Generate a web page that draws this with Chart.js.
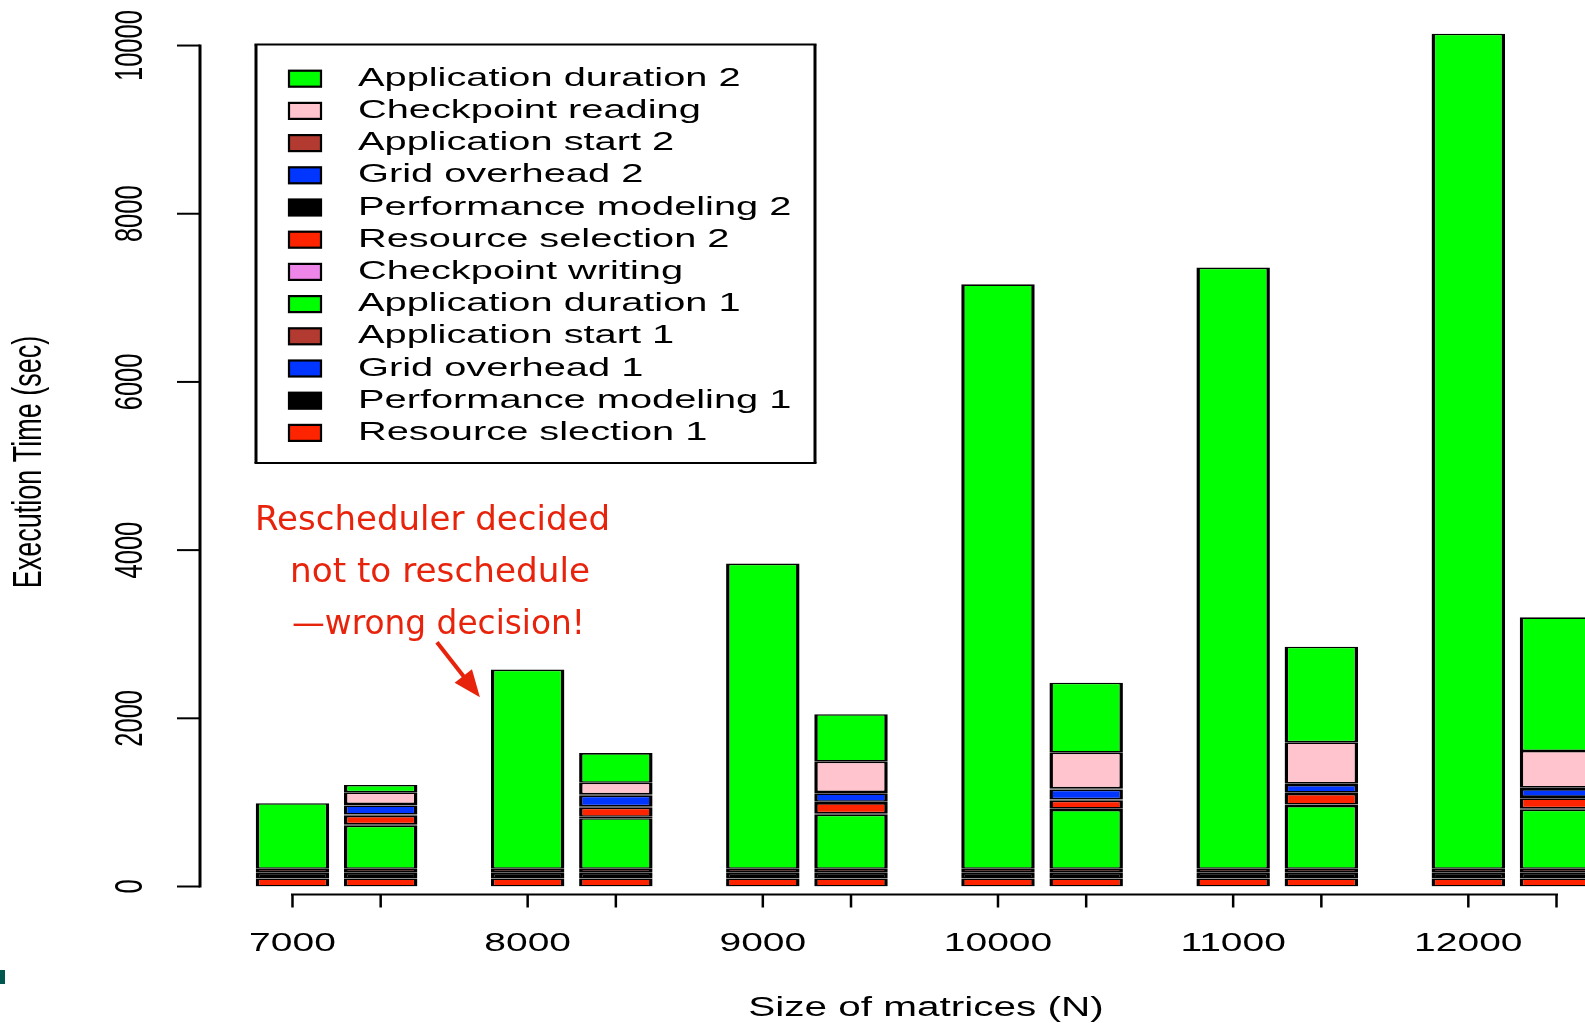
<!DOCTYPE html>
<html>
<head>
<meta charset="utf-8">
<title>Execution time with and without rescheduling</title>
<style>
  html, body { margin: 0; padding: 0; overflow: hidden; background: #ffffff; }
  canvas { display: block; }
</style>
<script src="https://cdn.jsdelivr.net/npm/chart.js@4/dist/chart.umd.min.js"></script>
</head>
<body>
<canvas id="chart" width="1640" height="1023"></canvas>
<script>
// Matrix sizes (N)
const sizes = ['7000', '8000', '9000', '10000', '11000', '12000'];
const yTicks = [0, 2000, 4000, 6000, 8000, 10000];

// Runs that stayed on the original resources (single phase), seconds
const staticResSel   = [95, 95, 95, 95, 95, 95];
const staticPerfMod  = [65, 65, 65, 65, 65, 65];
const staticGridOvh  = [8, 8, 8, 8, 8, 8];
const staticAppStart = [42, 42, 42, 42, 42, 42];
const staticAppDur   = [780, 2370, 3630, 6950, 7150, 9930];

// Runs that were migrated: phase 1, checkpoint, phase 2, seconds
const reschResSel1   = [95, 95, 95, 95, 95, 95];
const reschPerfMod1  = [65, 65, 65, 65, 65, 65];
const reschGridOvh1  = [8, 8, 8, 8, 8, 8];
const reschAppStart1 = [42, 42, 42, 42, 42, 42];
const reschAppDur1   = [513, 602, 644, 700, 748, 704];
const ckptWriting    = [16, 16, 16, 16, 16, 16];
const reschResSel2   = [101, 109, 122, 94, 126, 119];
const reschPerfMod2  = [16, 16, 16, 16, 16, 16];
const reschGridOvh2  = [108, 127, 100, 116, 91, 94];
const reschAppStart2 = [16, 16, 16, 16, 16, 16];
const ckptReading    = [140, 138, 360, 423, 491, 436];
const reschAppDur2   = [87, 353, 564, 833, 1137, 1590];

const COLORS = {
  green: '#00ff00',
  pink: '#ffc4ce',
  brown: '#b23a30',
  blue: '#0036ff',
  black: '#000000',
  red: '#ff2400',
  violet: '#ee86ea'
};

function bar(label, data, color, stack) {
  return {
    label: label,
    data: data,
    stack: stack,
    backgroundColor: color,
    borderColor: '#000000',
    borderWidth: { top: 1.6, bottom: 1.6, left: 3.5, right: 3.5 },
    borderSkipped: false,
    categoryPercentage: 0.75,
    barPercentage: 0.833
  };
}

// Bottom-to-top stacking order
const datasets = [
  bar('Resource slection 1', staticResSel, COLORS.red, 'static'),
  bar('Performance modeling 1', staticPerfMod, COLORS.black, 'static'),
  bar('Grid overhead 1', staticGridOvh, COLORS.blue, 'static'),
  bar('Application start 1', staticAppStart, COLORS.brown, 'static'),
  bar('Application duration 1', staticAppDur, COLORS.green, 'static'),

  bar('Resource slection 1', reschResSel1, COLORS.red, 'resched'),
  bar('Performance modeling 1', reschPerfMod1, COLORS.black, 'resched'),
  bar('Grid overhead 1', reschGridOvh1, COLORS.blue, 'resched'),
  bar('Application start 1', reschAppStart1, COLORS.brown, 'resched'),
  bar('Application duration 1', reschAppDur1, COLORS.green, 'resched'),
  bar('Checkpoint writing', ckptWriting, COLORS.violet, 'resched'),
  bar('Resource selection 2', reschResSel2, COLORS.red, 'resched'),
  bar('Performance modeling 2', reschPerfMod2, COLORS.black, 'resched'),
  bar('Grid overhead 2', reschGridOvh2, COLORS.blue, 'resched'),
  bar('Application start 2', reschAppStart2, COLORS.brown, 'resched'),
  bar('Checkpoint reading', ckptReading, COLORS.pink, 'resched'),
  bar('Application duration 2', reschAppDur2, COLORS.green, 'resched')
];

const FONT = '"Liberation Sans", Arial, Helvetica, sans-serif';
const STRETCH = 1.5; // wide glyphs of the plotting device

function hText(ctx, text, x, y, size, align, baseline, stretch) {
  ctx.save();
  ctx.translate(x, y);
  ctx.scale(stretch || STRETCH, 1);
  ctx.font = size + 'px ' + FONT;
  ctx.textAlign = align || 'center';
  ctx.textBaseline = baseline || 'middle';
  ctx.fillStyle = '#000000';
  ctx.fillText(text, 0, 0);
  ctx.restore();
}

function vText(ctx, text, x, y, size) {
  ctx.save();
  ctx.translate(x, y);
  ctx.scale(STRETCH, 1);
  ctx.rotate(-Math.PI / 2);
  ctx.font = size + 'px ' + FONT;
  ctx.textAlign = 'center';
  ctx.textBaseline = 'middle';
  ctx.fillStyle = '#000000';
  ctx.fillText(text, 0, 0);
  ctx.restore();
}

function line(ctx, x1, y1, x2, y2, w) {
  ctx.beginPath();
  ctx.lineWidth = w;
  ctx.moveTo(x1, y1);
  ctx.lineTo(x2, y2);
  ctx.stroke();
}

// Axes drawn in the style of a base-graphics barplot
const axesPlugin = {
  id: 'baseAxes',
  afterDatasetsDraw(chart) {
    const ctx = chart.ctx;
    const area = chart.chartArea;
    const y = chart.scales.y;
    ctx.save();
    ctx.strokeStyle = '#000000';
    ctx.lineCap = 'butt';

    // y axis
    const axisX = area.left - 19;
    line(ctx, axisX, y.getPixelForValue(yTicks[0]) + 1, axisX, y.getPixelForValue(yTicks[yTicks.length - 1]) - 1, 3);
    yTicks.forEach(v => {
      const py = y.getPixelForValue(v);
      line(ctx, axisX - 23, py, axisX, py, 2);
      vText(ctx, String(v), axisX - 69, py, 25.5);
    });
    vText(ctx, 'Execution Time (sec)', 30, 462, 27);

    // x axis: one tick per bar, label under the first bar of each pair
    const staticMeta = chart.getDatasetMeta(4);
    const reschMeta = chart.getDatasetMeta(datasets.length - 1);
    const centers = [];
    sizes.forEach((s, i) => {
      centers.push(staticMeta.data[i].x);
      centers.push(reschMeta.data[i].x);
    });
    const axisY = area.bottom + 8;
    line(ctx, centers[0] - 1.5, axisY, centers[centers.length - 1] + 1.5, axisY, 2);
    centers.forEach(cx => line(ctx, cx, axisY, cx, axisY + 13, 2.5));
    sizes.forEach((s, i) => hText(ctx, s, staticMeta.data[i].x, axisY + 49, 26));
    hText(ctx, 'Size of matrices (N)', 926, 1009, 27);

    ctx.restore();
  }
};

// Legend box listing the components, top of the stack first
const legendPlugin = {
  id: 'boxLegend',
  afterDatasetsDraw(chart) {
    const ctx = chart.ctx;
    const items = datasets.slice(5).reverse();
    const box = { x: 256, y: 44.5, w: 559, h: 418.5 };
    ctx.save();
    ctx.fillStyle = '#ffffff';
    ctx.fillRect(box.x, box.y, box.w, box.h);
    ctx.strokeStyle = '#000000';
    line(ctx, box.x - 1.5, box.y, box.x + box.w + 1.5, box.y, 2);
    line(ctx, box.x - 1.5, box.y + box.h, box.x + box.w + 1.5, box.y + box.h, 2);
    line(ctx, box.x, box.y, box.x, box.y + box.h, 3);
    line(ctx, box.x + box.w, box.y, box.x + box.w, box.y + box.h, 3);

    items.forEach((ds, i) => {
      const cy = 78.7 + i * 32.2;
      ctx.fillStyle = ds.backgroundColor;
      ctx.fillRect(289, cy - 8, 32, 16);
      ctx.lineWidth = 2.2;
      ctx.strokeStyle = '#000000';
      ctx.strokeRect(289, cy - 8, 32, 16);
      hText(ctx, ds.label, 358, cy + 7, 26, 'left', 'alphabetic', 1.53);
    });
    ctx.restore();
  }
};

// Hand-written note pointing at the 8000 run
const notePlugin = {
  id: 'note',
  afterDatasetsDraw(chart) {
    const ctx = chart.ctx;
    const red = '#e8230c';
    ctx.save();
    ctx.fillStyle = red;
    ctx.strokeStyle = red;
    const lines = [
      { text: 'Rescheduler decided', cx: 432.5, base: 530, w: 355 },
      { text: 'not to reschedule', cx: 440, base: 582, w: 300 },
      { text: '\u2014wrong decision!', cx: 438.5, base: 634, w: 293 }
    ];
    lines.forEach(l => {
      ctx.save();
      ctx.font = '34px "DejaVu Sans", "Noto Sans", sans-serif';
      const m = ctx.measureText(l.text).width;
      ctx.translate(l.cx, l.base);
      ctx.scale(l.w / m, 1);
      ctx.textAlign = 'center';
      ctx.textBaseline = 'alphabetic';
      ctx.fillText(l.text, 0, 0);
      ctx.restore();
    });

    // arrow to the left edge of the 8000 single-run bar
    const el = chart.getDatasetMeta(4).data[1];
    const tipX = el.x - el.width / 2 - 11;
    const tipY = chart.scales.y.getPixelForValue(2250);
    const tailX = tipX - 43, tailY = tipY - 55;
    const len = Math.hypot(tipX - tailX, tipY - tailY);
    const ux = (tipX - tailX) / len, uy = (tipY - tailY) / len;
    const head = 27, half = 11;
    const bx = tipX - ux * head, by = tipY - uy * head;
    ctx.lineCap = 'butt';
    line(ctx, tailX, tailY, bx + ux * 2, by + uy * 2, 4);
    ctx.beginPath();
    ctx.moveTo(tipX, tipY);
    ctx.lineTo(bx - uy * half, by + ux * half);
    ctx.lineTo(bx + uy * half, by - ux * half);
    ctx.closePath();
    ctx.fill();

    // slide corner mark
    ctx.fillStyle = '#00574f';
    ctx.fillRect(0, 970, 5, 14);
    ctx.restore();
  }
};

new Chart(document.getElementById('chart'), {
  type: 'bar',
  data: { labels: sizes, datasets: datasets },
  options: {
    responsive: false,
    animation: false,
    devicePixelRatio: 1,
    layout: { padding: { left: 219, right: 10, top: 11.9, bottom: 136.5 } },
    plugins: {
      legend: { display: false },
      tooltip: { enabled: false },
      title: { display: false }
    },
    scales: {
      x: { type: 'category', stacked: true, display: false, offset: true },
      y: { type: 'linear', stacked: true, display: false, min: 0, max: 10400 }
    }
  },
  plugins: [axesPlugin, legendPlugin, notePlugin]
});
</script>
</body>
</html>
